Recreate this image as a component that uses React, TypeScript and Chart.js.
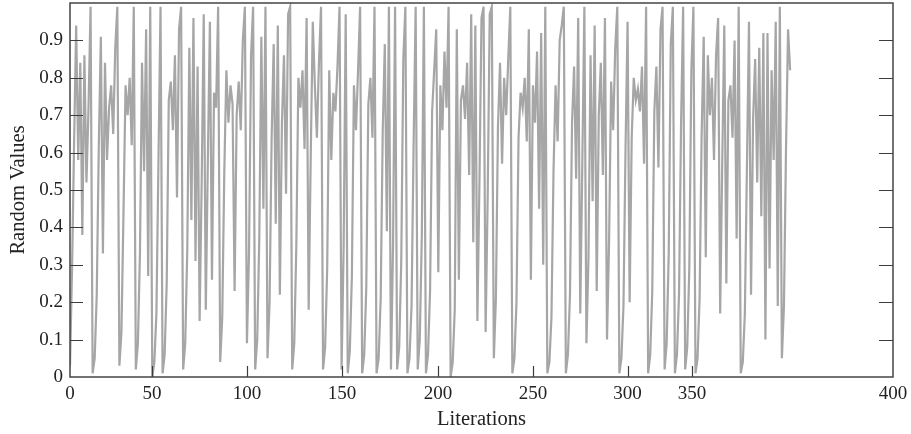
import React, { useEffect, useRef } from "react";
import { Chart, registerables } from "chart.js";

Chart.register(...registerables);

// Random values per iteration
const randomValues: number[] = [
  0.03, 0.29, 0.63, 0.94, 0.58, 0.84, 0.38, 0.86, 0.52, 0.72,
  0.99, 0.01, 0.05, 0.22, 0.62, 0.91, 0.33, 0.84, 0.58, 0.72,
  0.78, 0.65, 0.88, 0.99, 0.03, 0.12, 0.44, 0.78, 0.70, 0.80,
  0.62, 0.99, 0.02, 0.09, 0.33, 0.84, 0.55, 0.93, 0.27, 0.99,
  0.00, 0.04, 0.17, 0.58, 0.99, 0.01, 0.06, 0.25, 0.74, 0.79,
  0.66, 0.86, 0.48, 0.93, 0.99, 0.02, 0.09, 0.34, 0.88, 0.42,
  0.96, 0.31, 0.83, 0.15, 0.52, 0.97, 0.18, 0.58, 0.95, 0.26,
  0.76, 0.72, 0.99, 0.04, 0.16, 0.55, 0.82, 0.68, 0.78, 0.73,
  0.23, 0.70, 0.79, 0.66, 0.90, 0.99, 0.09, 0.33, 0.86, 0.99,
  0.02, 0.10, 0.37, 0.91, 0.45, 0.99, 0.05, 0.20, 0.64, 0.89,
  0.41, 0.94, 0.22, 0.68, 0.86, 0.49, 0.97, 0.99, 0.02, 0.09,
  0.35, 0.80, 0.72, 0.82, 0.61, 0.96, 0.18, 0.59, 0.95, 0.78,
  0.64, 0.84, 0.99, 0.02, 0.08, 0.29, 0.82, 0.58, 0.76, 0.71,
  0.83, 0.99, 0.02, 0.35, 0.97, 0.01, 0.07, 0.27, 0.78, 0.66,
  0.82, 0.99, 0.01, 0.06, 0.24, 0.73, 0.80, 0.64, 0.99, 0.01,
  0.05, 0.21, 0.66, 0.89, 0.39, 0.99, 0.02, 0.35, 0.99, 0.02,
  0.08, 0.31, 0.85, 0.99, 0.01, 0.05, 0.19, 0.62, 0.99, 0.02,
  0.10, 0.38, 0.99, 0.01, 0.06, 0.23, 0.71, 0.82, 0.93, 0.28,
  0.78, 0.66, 0.87, 0.72, 0.99, 0.00, 0.04, 0.18, 0.93, 0.26,
  0.74, 0.78, 0.69, 0.84, 0.54, 0.97, 0.36, 0.94, 0.15, 0.52,
  0.96, 0.99, 0.12, 0.48, 0.97, 0.99, 0.05, 0.21, 0.67, 0.84,
  0.57, 0.80, 0.70, 0.85, 0.99, 0.01, 0.05, 0.20, 0.64, 0.76,
  0.72, 0.80, 0.63, 0.93, 0.26, 0.78, 0.68, 0.87, 0.45, 0.92,
  0.30, 0.99, 0.01, 0.04, 0.16, 0.55, 0.78, 0.63, 0.90, 0.94,
  0.99, 0.01, 0.06, 0.22, 0.68, 0.83, 0.53, 0.96, 0.17, 0.57,
  0.99, 0.09, 0.32, 0.86, 0.47, 0.94, 0.23, 0.70, 0.84, 0.54,
  0.96, 0.10, 0.36, 0.79, 0.66, 0.88, 0.99, 0.01, 0.05, 0.19,
  0.61, 0.95, 0.20, 0.64, 0.80, 0.74, 0.77, 0.71, 0.83, 0.57,
  0.99, 0.01, 0.06, 0.23, 0.71, 0.83, 0.56, 0.93, 0.99, 0.02,
  0.09, 0.33, 0.89, 0.99, 0.01, 0.06, 0.22, 0.68, 0.99, 0.02,
  0.08, 0.29, 0.82, 0.99, 0.01, 0.05, 0.21, 0.65, 0.91, 0.32,
  0.86, 0.70, 0.80, 0.58, 0.86, 0.96, 0.17, 0.57, 0.94, 0.25,
  0.74, 0.78, 0.64, 0.90, 0.37, 0.99, 0.01, 0.04, 0.17, 0.56,
  0.95, 0.22, 0.69, 0.85, 0.52, 0.88, 0.43, 0.92, 0.10, 0.92,
  0.29, 0.82, 0.58, 0.95, 0.19, 0.99, 0.05, 0.19, 0.61, 0.93,
  0.82,
];

const iterations: number[] = randomValues.map((_, i) => i);

// x-axis tick labels and the axis values where the printed labels sit
const xTickLabels: string[] = ["0", "50", "100", "150", "200", "250", "300", "350", "400"];
const xTickValues: number[] = [0, 39.9, 86, 132.2, 178.9, 225, 271, 302.3, 400];

const yTickValues: number[] = [0, 0.1, 0.2, 0.3, 0.4, 0.5, 0.6, 0.7, 0.8, 0.9];
const yTickLabels: string[] = ["0", "0.1", "0.2", "0.3", "0.4", "0.5", "0.6", "0.7", "0.8", "0.9"];

const SERIF = "'Liberation Serif', 'DejaVu Serif', serif";

const framePlugin = {
  id: "framePlugin",
  afterDraw(chart: any) {
    const { ctx, chartArea, scales } = chart;
    const { left, right, top, bottom } = chartArea;
    ctx.save();
    ctx.strokeStyle = "#3c3c3c";
    ctx.lineWidth = 1.2;
    const ys = scales.y;
    ys.ticks.forEach((t: any) => {
      if (t.value <= 0) return;
      const py = Math.round(ys.getPixelForValue(t.value)) + 0.5;
      ctx.beginPath();
      ctx.moveTo(left, py);
      ctx.lineTo(left + 13, py);
      ctx.moveTo(right, py);
      ctx.lineTo(right - 14, py);
      ctx.stroke();
    });
    const xs = scales.x;
    xs.ticks.forEach((t: any) => {
      if (t.value <= 0 || t.value >= 400) return;
      const px = Math.round(xs.getPixelForValue(t.value)) + 0.5;
      ctx.beginPath();
      ctx.moveTo(px, bottom);
      ctx.lineTo(px, bottom - 11);
      ctx.stroke();
    });
    ctx.lineWidth = 1.5;
    ctx.strokeStyle = "#444444";
    ctx.strokeRect(left, top, right - left, bottom - top);
    ctx.restore();
  },
};

export default function App() {
  const canvasRef = useRef<HTMLCanvasElement | null>(null);

  useEffect(() => {
    const canvas = canvasRef.current;
    if (!canvas) return;
    const chart = new Chart(canvas, {
      type: "line",
      data: {
        datasets: [
          {
            data: iterations.map((it, i) => ({ x: it, y: randomValues[i] })),
            borderColor: "#a6a6a6",
            borderWidth: 2.2,
            pointRadius: 0,
            tension: 0,
            fill: false,
          },
        ],
      },
      options: {
        animation: false,
        responsive: true,
        maintainAspectRatio: false,
        layout: { padding: { top: 3, right: 18, bottom: 0, left: 0 } },
        plugins: {
          legend: { display: false },
          tooltip: { enabled: false },
        },
        scales: {
          x: {
            type: "linear",
            min: 0,
            max: 400,
            grid: { display: false, drawTicks: false },
            border: { display: false },
            afterBuildTicks: (scale: any) => {
              scale.ticks = xTickValues.map((v) => ({ value: v }));
            },
            afterFit: (scale: any) => {
              scale.height = 57;
              scale.paddingLeft = 0;
              scale.paddingRight = 0;
            },
            ticks: {
              padding: 6,
              maxRotation: 0,
              autoSkip: false,
              color: "#222",
              font: { family: SERIF, size: 19 },
              callback: (_v: any, index: number) => xTickLabels[index],
            },
            title: {
              display: true,
              text: "Literations",
              color: "#222",
              font: { family: SERIF, size: 20.5 },
              padding: { top: 0, bottom: 2 },
            },
          },
          y: {
            min: 0,
            max: 1,
            grid: { display: false, drawTicks: false },
            border: { display: false },
            afterBuildTicks: (scale: any) => {
              scale.ticks = yTickValues.map((v) => ({ value: v }));
            },
            afterFit: (scale: any) => {
              scale.width = 70;
              scale.paddingTop = 0;
              scale.paddingBottom = 0;
            },
            ticks: {
              padding: 7,
              autoSkip: false,
              color: "#222",
              font: { family: SERIF, size: 19 },
              callback: (_v: any, index: number) => yTickLabels[index],
            },
            title: {
              display: true,
              text: "Random Values",
              color: "#222",
              font: { family: SERIF, size: 20.5 },
              padding: { top: 6, bottom: 0 },
            },
          },
        },
      },
      plugins: [framePlugin],
    });
    return () => chart.destroy();
  }, []);

  return (
    <div style={{ position: "fixed", left: 0, top: 0, width: 911, height: 434, background: "#fff" }}>
      <canvas ref={canvasRef} />
    </div>
  );
}
